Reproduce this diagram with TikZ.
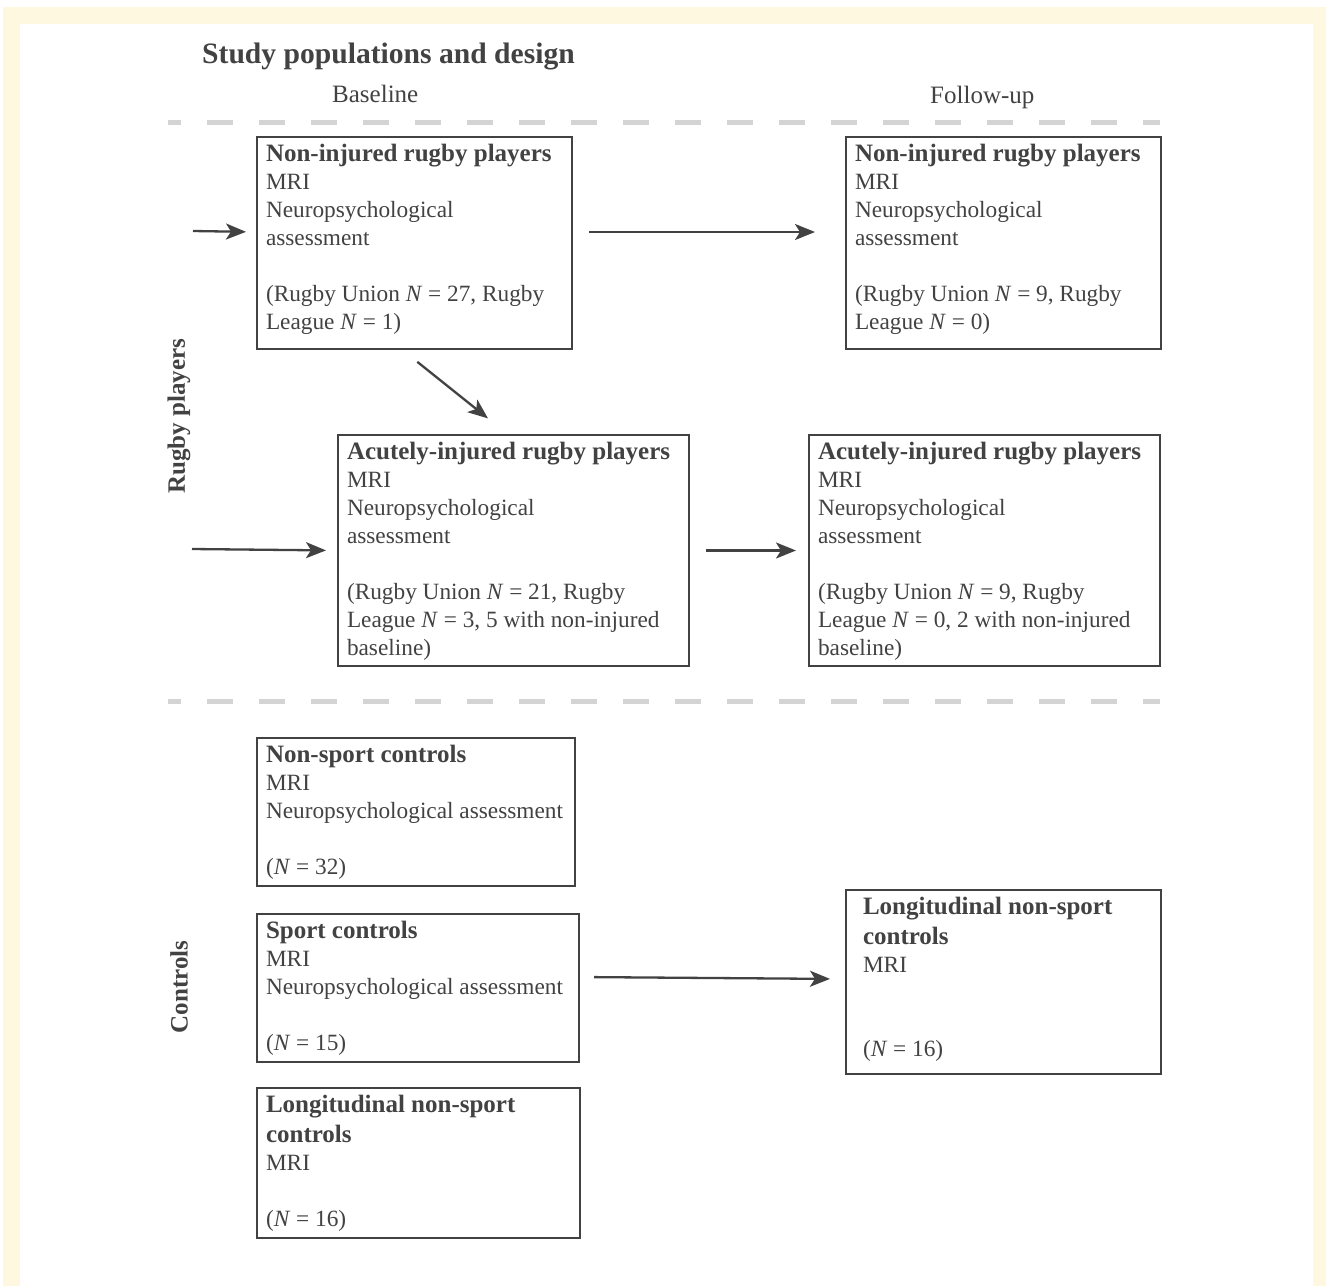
\documentclass[tikz,border=0pt]{standalone}
\usepackage{fontspec}
\setmainfont{Liberation Serif}
\usetikzlibrary{arrows.meta}
\definecolor{inkgray}{HTML}{424242}
\definecolor{dashgray}{HTML}{D4D4D4}
\definecolor{creamframe}{HTML}{FFF8E1}
\newcommand{\boxhead}[1]{{\fontsize{25}{28}\selectfont\bfseries #1}}
\newcommand{\popN}{\textit{N}}
\newcommand{\popbody}[3]{\parbox[c][#2][t]{#1}{\fontsize{23.3}{28}\selectfont\raggedright\rule{0pt}{24pt}#3}}
\begin{document}
\begin{tikzpicture}[x=1pt, y=-1pt,
    popbox/.style={draw=inkgray, line width=2pt, inner xsep=9pt, inner ysep=0pt, anchor=north west, text=inkgray},
    flow/.style={draw=inkgray, line width=2.3pt, -{Stealth[length=20pt, width=16pt, inset=5pt]}},
    sepline/.style={draw=dashgray, line width=5pt, dash pattern=on 26pt off 26pt, dash phase=13pt},
    colhead/.style={anchor=base west, inner sep=0pt, text=inkgray, font=\fontsize{25}{28}\selectfont},
    sidelabel/.style={rotate=90, inner sep=0pt, text=inkgray, font=\fontsize{25}{28}\selectfont\bfseries}]
    % page and frame
    \fill[white] (0,0) rectangle (1326,1286);
    \fill[creamframe] (3,7) rectangle (1326,1286);
    \fill[white] (20,24) rectangle (1313,1286);
    \useasboundingbox (0,0) rectangle (1326,1286);
    % headings
    \node[anchor=base west, inner sep=0pt, text=inkgray, font=\fontsize{29.6}{34}\selectfont\bfseries] (title) at (202,63) {Study populations and design};
    \node[colhead] (basehd) at (332,102) {Baseline};
    \node[colhead] (followhd) at (930,103) {Follow-up};
    \draw[sepline] (168,122) -- (1160,122);
    \draw[sepline] (168,701) -- (1160,701);
    \node[sidelabel] (rugbylab) at (179,416) {Rugby players};
    \node[sidelabel] (ctrllab) at (179,987) {Controls};
    % rugby players
    \node[popbox] (nonbase) at (256,136) {\popbody{297pt}{212pt}{\boxhead{Non-injured rugby players}\\ MRI\\ Neuropsychological\\ assessment\\[28pt] (Rugby Union \popN{} = 27, Rugby\\ League \popN{} = 1)}};
    \node[popbox] (nonfollow) at (845,136) {\popbody{297pt}{212pt}{\boxhead{Non-injured rugby players}\\ MRI\\ Neuropsychological\\ assessment\\[28pt] (Rugby Union \popN{} = 9, Rugby\\ League \popN{} = 0)}};
    \node[popbox] (acutebase) at (337,434) {\popbody{333pt}{231pt}{\boxhead{Acutely-injured rugby players}\\ MRI\\ Neuropsychological\\ assessment\\[28pt] (Rugby Union \popN{} = 21, Rugby\\ League \popN{} = 3, 5 with non-injured\\ baseline)}};
    \node[popbox] (acutefollow) at (808,434) {\popbody{333pt}{231pt}{\boxhead{Acutely-injured rugby players}\\ MRI\\ Neuropsychological\\ assessment\\[28pt] (Rugby Union \popN{} = 9, Rugby\\ League \popN{} = 0, 2 with non-injured\\ baseline)}};
    % controls
    \node[popbox] (nonsport) at (256,737) {\popbody{300pt}{148pt}{\boxhead{Non-sport controls}\\ MRI\\ Neuropsychological assessment\\[28pt] (\popN{} = 32)}};
    \node[popbox] (sport) at (256,913) {\popbody{304pt}{148pt}{\boxhead{Sport controls}\\ MRI\\ Neuropsychological assessment\\[28pt] (\popN{} = 15)}};
    \node[popbox] (longbase) at (256,1087) {\popbody{305pt}{150pt}{\boxhead{Longitudinal non-sport}\\[2pt] \boxhead{controls}\\ MRI\\[28pt] (\popN{} = 16)}};
    \node[popbox] (longfollow) at (845,889) {\popbody{297pt}{184pt}{\leftskip=8pt \boxhead{Longitudinal non-sport}\\[2pt] \boxhead{controls}\\ MRI\\[56pt] (\popN{} = 16)}};
    % arrows
    \coordinate (in1) at (193,231);
    \coordinate (in2) at (192,549);
    \draw[flow, shorten >=10pt] (in1) -- ([yshift=11pt]nonbase.west);
    \draw[flow, shorten <=16pt, shorten >=30pt] ([yshift=11pt]nonbase.east) -- ([yshift=11pt]nonfollow.west);
    \draw[flow, shorten <=19pt, shorten >=25pt] ([xshift=-12pt]nonbase.south) -- ([xshift=-6pt]acutebase.north);
    \draw[flow, shorten >=11pt] (in2) -- (acutebase.west);
    \draw[flow, shorten <=16pt, shorten >=12pt] (acutebase.east) -- (acutefollow.west);
    \draw[flow, shorten <=14pt, shorten >=15pt] ([yshift=11pt]sport.east) -- ([yshift=3pt]longfollow.west);
\end{tikzpicture}
\end{document}
